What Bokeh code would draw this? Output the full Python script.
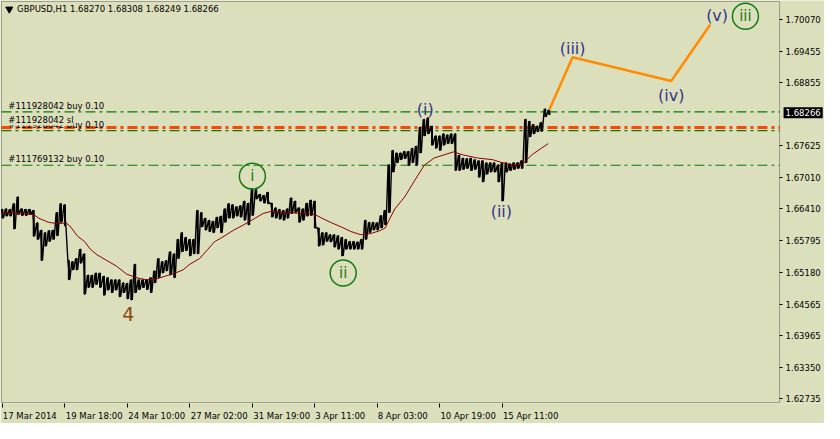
from bokeh.plotting import figure
from bokeh.models import (Range1d, LinearAxis, FixedTicker, Label, PrintfTickFormatter,
                          BoxAnnotation)
from bokeh.core.properties import value
from bokeh.embed import file_html
from bokeh.resources import INLINE

# ---------------- data (H1 bars sampled every 4 bars) ----------------
bar_idx = list(range(0, 561, 4))
bar_high = [1.6640, 1.6641, 1.6640, 1.6651, 1.6664, 1.6641, 1.6640, 1.6640, 1.6638, 1.6614,
            1.6600, 1.6595, 1.6599, 1.6600, 1.6634, 1.6651, 1.6649, 1.6541, 1.6539, 1.6545,
            1.6563, 1.6554, 1.6513, 1.6513, 1.6517, 1.6517, 1.6511, 1.6508, 1.6504, 1.6504,
            1.6504, 1.6498, 1.6497, 1.6504, 1.6534, 1.6504, 1.6504, 1.6504, 1.6508, 1.6521,
            1.6545, 1.6539, 1.6541, 1.6558, 1.6554, 1.6582, 1.6595, 1.6586, 1.6582, 1.6582,
            1.6638, 1.6634, 1.6623, 1.6619, 1.6617, 1.6625, 1.6627, 1.6641, 1.6651, 1.6649,
            1.6645, 1.6647, 1.6656, 1.6652, 1.6680, 1.6678, 1.6669, 1.6667, 1.6673, 1.6652,
            1.6643, 1.6640, 1.6638, 1.6641, 1.6662, 1.6656, 1.6643, 1.6641, 1.6652, 1.6658,
            1.6656, 1.6604, 1.6595, 1.6595, 1.6591, 1.6591, 1.6589, 1.6586, 1.6582, 1.6578,
            1.6578, 1.6577, 1.6582, 1.6619, 1.6615, 1.6615, 1.6614, 1.6628, 1.6638, 1.6726,
            1.6754, 1.6749, 1.6749, 1.6752, 1.6752, 1.6758, 1.6762, 1.6799, 1.6814, 1.6817,
            1.6801, 1.6782, 1.6782, 1.6786, 1.6784, 1.6786, 1.6786, 1.6745, 1.6739, 1.6738,
            1.6739, 1.6736, 1.6734, 1.6734, 1.6730, 1.6730, 1.6730, 1.6726, 1.6730, 1.6730,
            1.6728, 1.6730, 1.6730, 1.6734, 1.6814, 1.6810, 1.6804, 1.6801, 1.6808, 1.6834,
            1.6832]
bar_low = [1.6623, 1.6627, 1.6627, 1.6602, 1.6630, 1.6628, 1.6628, 1.6630, 1.6588, 1.6582,
           1.6541, 1.6569, 1.6578, 1.6582, 1.6589, 1.6615, 1.6608, 1.6504, 1.6523, 1.6523,
           1.6536, 1.6476, 1.6489, 1.6489, 1.6495, 1.6489, 1.6474, 1.6484, 1.6479, 1.6484,
           1.6471, 1.6479, 1.6467, 1.6465, 1.6479, 1.6485, 1.6489, 1.6485, 1.6479, 1.6498,
           1.6508, 1.6517, 1.6521, 1.6513, 1.6508, 1.6545, 1.6558, 1.6560, 1.6550, 1.6554,
           1.6554, 1.6606, 1.6600, 1.6597, 1.6595, 1.6604, 1.6595, 1.6615, 1.6623, 1.6623,
           1.6627, 1.6625, 1.6619, 1.6610, 1.6628, 1.6660, 1.6656, 1.6652, 1.6651, 1.6625,
           1.6623, 1.6621, 1.6619, 1.6623, 1.6632, 1.6634, 1.6615, 1.6619, 1.6627, 1.6628,
           1.6604, 1.6569, 1.6571, 1.6578, 1.6577, 1.6567, 1.6563, 1.6550, 1.6563, 1.6563,
           1.6563, 1.6563, 1.6563, 1.6582, 1.6595, 1.6600, 1.6600, 1.6604, 1.6610, 1.6634,
           1.6712, 1.6730, 1.6736, 1.6738, 1.6725, 1.6730, 1.6725, 1.6749, 1.6782, 1.6786,
           1.6764, 1.6758, 1.6754, 1.6764, 1.6767, 1.6767, 1.6715, 1.6715, 1.6717, 1.6719,
           1.6715, 1.6717, 1.6702, 1.6693, 1.6708, 1.6712, 1.6712, 1.6693, 1.6656, 1.6712,
           1.6715, 1.6717, 1.6719, 1.6719, 1.6730, 1.6780, 1.6786, 1.6790, 1.6791, 1.6819,
           1.6823]

# moving average
ma_idx = [0, 32, 37, 47, 57, 65, 69, 77, 84, 90, 97, 107, 117, 127, 137, 147, 155, 167, 177,
          185, 192, 202, 210, 217, 227, 237, 247, 259, 267, 275, 287, 307, 320, 327, 337, 347,
          357, 367, 377, 387, 392, 397, 402, 412, 422, 432, 442, 452, 462, 472, 487, 502, 512,
          522, 532, 542, 552, 559]
ma_val = [1.6634, 1.6630, 1.6623, 1.6615, 1.6612, 1.6614, 1.6608, 1.6588, 1.6578, 1.6563,
          1.6552, 1.6541, 1.6530, 1.6515, 1.6508, 1.6504, 1.6504, 1.6511, 1.6517, 1.6523,
          1.6534, 1.6545, 1.6562, 1.6577, 1.6588, 1.6600, 1.6610, 1.6623, 1.6632, 1.6636,
          1.6634, 1.6632, 1.6630, 1.6623, 1.6614, 1.6606, 1.6597, 1.6591, 1.6593, 1.6599,
          1.6604, 1.6623, 1.6641, 1.6664, 1.6695, 1.6725, 1.6739, 1.6745, 1.6751, 1.6745,
          1.6739, 1.6736, 1.6730, 1.6726, 1.6726, 1.6745, 1.6758, 1.6767]

# projected wave path
proj_idx = [560, 584, 685, 725]
proj_val = [1.6832, 1.6934, 1.6888, 1.6997]

# wave labels
minor_text = ["(i)", "(ii)", "(iii)", "(iv)", "(v)"]
minor_idx = [433, 511, 584, 685, 732]
minor_val = [1.6832, 1.6636, 1.6951, 1.6860, 1.7014]
circ_text = ["i", "ii", "iii"]
circ_idx = [256, 349, 761]
circ_val = [1.6704, 1.6517, 1.7013]
major_text = ["4"]
major_idx = [129]
major_val = [1.6437]

# order lines
order_names = ["#111928042 buy 0.10", "#111928042 sl", "#111928042 buy 0.10", "#111769132 buy 0.10"]
order_price = [1.68284, 1.67982, 1.67919, 1.67252]
order_kind = ["buy", "sl", "buy", "buy"]

# axes
y_ticks = [1.70070, 1.69455, 1.68855, 1.67625, 1.67010, 1.66410, 1.65795,
           1.65180, 1.64565, 1.63965, 1.63350, 1.62735]
x_tick_idx = [0, 64, 128, 192, 256, 320, 384, 448, 512]
x_tick_labels = ["17 Mar 2014", "19 Mar 18:00", "24 Mar 10:00", "27 Mar 02:00",
                 "31 Mar 19:00", "3 Apr 11:00", "8 Apr 03:00", "10 Apr 19:00", "15 Apr 11:00"]
last_price = 1.68266
header = "GBPUSD,H1  1.68270 1.68308 1.68249 1.68266"

# chart window (bars) and price-scale extent
win_left, win_right = -1, 796
win_bottom, win_top = 1.62666, 1.70417

# ---------------- figure ----------------
BG = "#dcdfbc"
FONT = "DejaVu Sans"

p = figure(width=824, height=423, output_backend="svg", toolbar_location=None,
           x_range=Range1d(-2, 842), y_range=Range1d(1.62648, 1.70435),
           x_axis_location=None, y_axis_location=None,
           min_border_left=0, min_border_top=0, min_border_right=0, min_border_bottom=0)
p.background_fill_color = BG
p.border_fill_color = BG
p.outline_line_color = None
p.grid.visible = False

# chart window border
p.add_layout(BoxAnnotation(left=win_left, right=win_right, bottom=win_bottom, top=win_top,
                           fill_alpha=0, line_color="black", line_width=1))

# price scale (axis fixed at the right edge of the chart window)
ya = LinearAxis(fixed_location=win_right, ticker=FixedTicker(ticks=y_ticks),
                formatter=PrintfTickFormatter(format="%.5f"))
ya.major_tick_out = 3
ya.major_tick_in = 0
ya.minor_tick_line_color = None
ya.axis_line_color = None
ya.major_label_standoff = 3
ya.major_label_text_font = FONT
ya.major_label_text_font_size = "8.5px"
ya.major_label_text_color = "black"
p.add_layout(ya, "right")

# time axis: labels sit to the right of each tick mark (tick marks drawn as minor ticks)
offsets = [28, 30, 30, 30, 30, 26, 26, 29, 29]
lab_pos = [t + o for t, o in zip(x_tick_idx, offsets)]
xa = LinearAxis(ticker=FixedTicker(ticks=lab_pos, minor_ticks=x_tick_idx))
xa.major_label_overrides = {pos: lab for pos, lab in zip(lab_pos, x_tick_labels)}
xa.major_tick_line_color = None
xa.major_tick_out = 0
xa.major_tick_in = 0
xa.minor_tick_out = 4
xa.minor_tick_in = 0
xa.minor_tick_line_color = "black"
xa.axis_line_color = None
xa.major_label_standoff = 3
xa.major_label_text_font = FONT
xa.major_label_text_font_size = "8.5px"
xa.major_label_text_color = "black"
p.add_layout(xa, "below")

# order lines (limited to the chart window)
for name, price, kind in zip(order_names, order_price, order_kind):
    if kind == "sl":
        p.segment(x0=[win_left], x1=[win_right], y0=[price], y1=[price],
                  line_color="#ff4500", line_width=3, line_dash="10 4 3 4")
    else:
        p.segment(x0=[win_left], x1=[win_right], y0=[price], y1=[price],
                  line_color="#0a7a0a", line_width=1.2, line_dash="10 4 3 4")

# bars: dense high/low trace (zig-zag between each sample's high and low)
zz_x, zz_y = [], []
for i, h, l in zip(bar_idx, bar_high, bar_low):
    zz_x += [i - 1, i + 1]
    zz_y += [h, l]
p.line(x=zz_x, y=zz_y, color="black", line_width=1.4)
p.vbar(x=bar_idx, width=1.0, top=bar_high, bottom=bar_low, color="black")

# MA
p.line(x=ma_idx, y=ma_val, color="#8b0000", line_width=1)

# projection
p.line(x=proj_idx, y=proj_val, color="#ff8c00", line_width=2.5)

# order labels
for name, price, kind in zip(order_names, order_price, order_kind):
    if kind == "sl":
        continue
    p.add_layout(Label(x=6, y=price, text=name, text_font=FONT, text_font_size="8.5px",
                       text_color="black", text_baseline="bottom", y_offset=1))
for name, price, kind in zip(order_names, order_price, order_kind):
    if kind == "sl":
        p.add_layout(Label(x=6, y=price, text=name, text_font=FONT, text_font_size="8.5px",
                           text_color="black", text_baseline="bottom", y_offset=2,
                           background_fill_color=BG))

# wave labels
p.text(x=minor_idx, y=minor_val, text=minor_text, text_font=value(FONT),
       text_font_size="16px", text_color="#35358a", text_align="center",
       text_baseline="middle")
p.scatter(x=circ_idx, y=circ_val, marker="circle", size=26, fill_alpha=0,
          line_color="#127a12", line_width=1.5)
p.text(x=circ_idx, y=circ_val, text=circ_text, text_font=value(FONT),
       text_font_size="15px", text_color="#2f7a10", text_align="center",
       text_baseline="middle")
p.text(x=major_idx, y=major_val, text=major_text, text_font=value(FONT),
       text_font_size="19px", text_color="#8b4513", text_align="center",
       text_baseline="middle")

# header
p.scatter(x=[7], y=[1.70268], marker="inverted_triangle", size=7, color="black")
p.add_layout(Label(x=15, y=1.70268, text=header, text_font=FONT, text_font_size="8.5px",
                   text_color="black", text_baseline="middle"))

# current price box on the price scale
p.add_layout(Label(x=win_right, y=last_price, text="1.68266", text_font=FONT,
                   text_font_size="8.5px", text_color="white", text_baseline="middle",
                   x_offset=4, padding=2, background_fill_color="black"))

open("out.html", "w").write(file_html(p, INLINE))
